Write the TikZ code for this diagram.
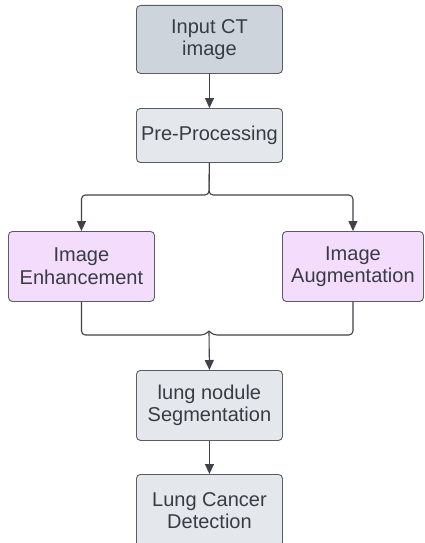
\documentclass[tikz,border=0pt]{standalone}
\usepackage{fontspec}
\setmainfont{Liberation Sans}
\usetikzlibrary{arrows.meta}
\definecolor{grayA}{HTML}{CED4DC}
\definecolor{grayB}{HTML}{E4E7EC}
\definecolor{purp}{HTML}{F3DCFC}
\definecolor{edge}{HTML}{5A5C63}
\definecolor{txt}{HTML}{3A3C44}
\definecolor{conn}{HTML}{3F424A}
\tikzset{
  box/.style={draw=edge, line width=0.9pt, rounded corners=4pt, align=center, text=txt,
    font=\fontsize{20}{22.5}\selectfont, inner sep=0pt, anchor=north west},
  link/.style={draw=conn, line width=1.1pt, rounded corners=4pt},
  arr/.style={link, -{Triangle[length=10pt,width=9pt]}}
}
\begin{document}
\begin{tikzpicture}[x=1pt,y=-1pt]
\useasboundingbox (0,0) rectangle (424,543);
\node[box, fill=grayA, minimum width=146pt, minimum height=68pt] (inp) at (136,5) {Input CT\\image};
\node[box, fill=grayB, minimum width=146pt, minimum height=54pt] (pre) at (136,108) {Pre-Processing};
\node[box, fill=purp, minimum width=146pt, minimum height=70pt] (enh) at (8,231) {Image\\Enhancement};
\node[box, fill=purp, minimum width=141pt, minimum height=70pt] (aug) at (282,231) {Image\\Augmentation};
\node[box, fill=grayB, minimum width=146pt, minimum height=70pt] (seg) at (136,370) {lung nodule\\Segmentation};
\node[box, fill=grayB, minimum width=146pt, minimum height=72pt] (det) at (136,474) {Lung Cancer\\Detection};
\coordinate (split) at (209,195);
\coordinate (join) at (209,335);
\draw[arr] (inp.south) -- (pre.north);
\draw[arr] (pre.south) -- (split) -| (enh.north);
\draw[arr] (pre.south) -- (split) -| (aug.north);
\draw[link] (enh.south) |- ([xshift=-4pt]join) -- ([yshift=4pt]join);
\draw[link] (aug.south) |- ([xshift=4pt]join) -- ([yshift=4pt]join);
\draw[arr] ([yshift=3pt]join) -- (seg.north);
\draw[arr] (seg.south) -- (det.north);
\end{tikzpicture}
\end{document}
